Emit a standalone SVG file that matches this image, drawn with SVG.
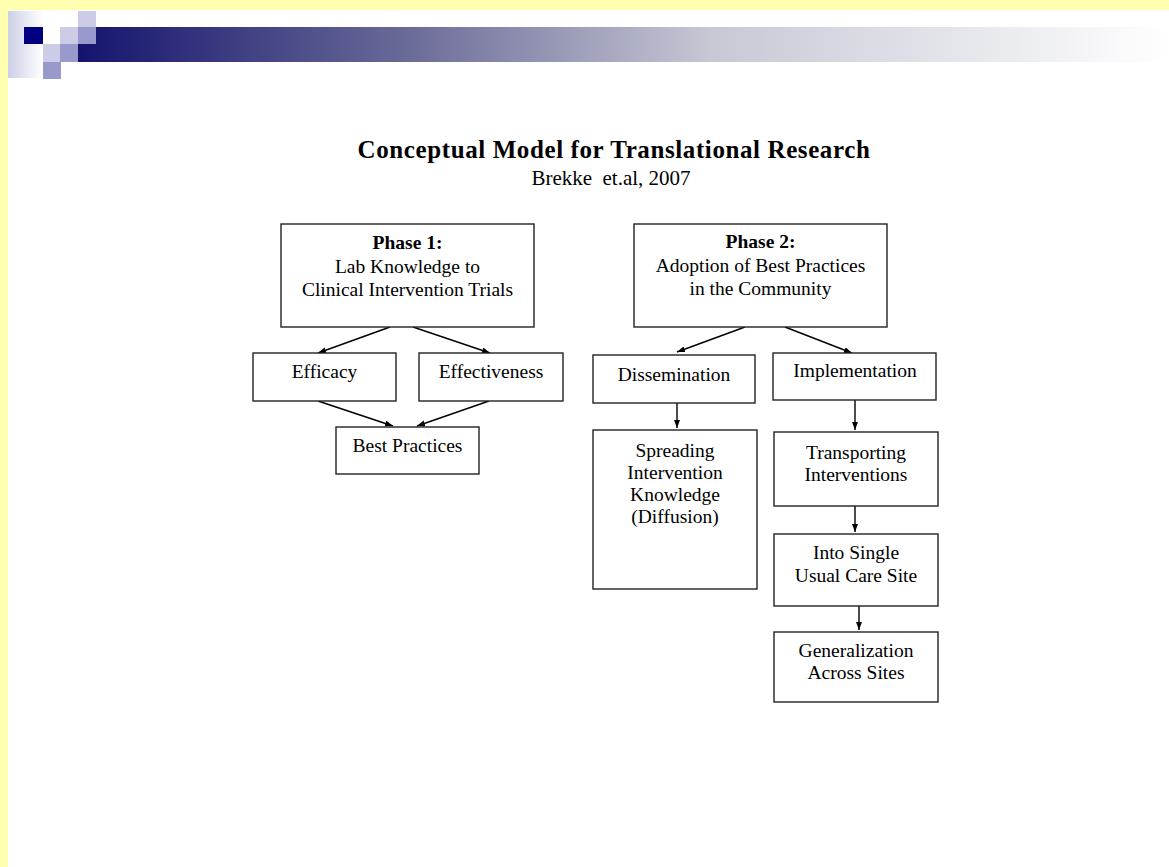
<svg xmlns="http://www.w3.org/2000/svg" width="1169" height="867" viewBox="0 0 1169 867">
  <defs>
    <linearGradient id="band" gradientUnits="userSpaceOnUse" x1="78" y1="0" x2="1169" y2="0">
      <stop offset="0" stop-color="#14146E"/>
      <stop offset="0.3" stop-color="#6A6A98"/>
      <stop offset="0.58" stop-color="#C6C8D4"/>
      <stop offset="1" stop-color="#FFFFFF"/>
    </linearGradient>
    <linearGradient id="lite" x1="0" y1="0" x2="1" y2="0">
      <stop offset="0" stop-color="#CCCFE6"/>
      <stop offset="1" stop-color="#FFFFFF"/>
    </linearGradient>
    <marker id="arr" markerUnits="userSpaceOnUse" markerWidth="9" markerHeight="7" refX="8" refY="3" orient="auto">
      <path d="M0,0 L8,3 L0,6 z" fill="#000"/>
    </marker>
    <style>
      .box { fill: #fff; stroke: #222; stroke-width: 1.4; }
      .t { font-family: "Liberation Serif", "Times New Roman", serif; font-size: 19.5px; fill: #000; text-anchor: middle; }
      .b { font-weight: bold; }
      .c { stroke: #000; stroke-width: 1.4; fill: none; marker-end: url(#arr); }
    </style>
  </defs>

  <!-- background -->
  <rect x="0" y="0" width="1169" height="867" fill="#FFFFFF"/>
  <rect x="0" y="0" width="1169" height="10" fill="#FFFFB0"/>
  <rect x="0" y="0" width="8" height="867" fill="#FFFFB0"/>

  <!-- header decoration -->
  <g id="header">
    <rect x="8" y="11" width="35" height="67" fill="url(#lite)"/>
    <rect x="78" y="27" width="1091" height="35" fill="url(#band)"/>
    <rect x="24" y="27" width="19" height="17" fill="#000080"/>
    <rect x="60" y="27" width="18" height="17" fill="#CCCCE6"/>
    <rect x="78" y="11" width="18" height="16" fill="#CCCCE6"/>
    <rect x="78" y="27" width="18" height="17" fill="#9999CC"/>
    <rect x="43" y="44" width="17" height="18" fill="#CCCCE6"/>
    <rect x="60" y="44" width="18" height="18" fill="#9999CC"/>
    <rect x="43" y="62" width="18" height="17" fill="#9999CC"/>
  </g>

  <!-- titles -->
  <g id="title">
    <text class="t b" x="614" y="158" style="font-size:25px" letter-spacing="0.6">Conceptual Model for Translational Research</text>
    <text class="t" x="611" y="185" style="font-size:21px" xml:space="preserve">Brekke  et.al, 2007</text>
  </g>

  <!-- connectors -->
  <g id="connectors">
    <line class="c" x1="390" y1="327" x2="318" y2="353"/>
    <line class="c" x1="413" y1="327" x2="490" y2="353"/>
    <line class="c" x1="318" y1="401" x2="393" y2="426"/>
    <line class="c" x1="489" y1="401" x2="417" y2="426"/>
    <line class="c" x1="745" y1="327" x2="677" y2="352"/>
    <line class="c" x1="785" y1="327" x2="852" y2="353"/>
    <line class="c" x1="677" y1="403" x2="677" y2="428"/>
    <line class="c" x1="855" y1="400" x2="855" y2="430"/>
    <line class="c" x1="855" y1="506" x2="855" y2="532"/>
    <line class="c" x1="859" y1="606" x2="859" y2="630"/>
  </g>

  <!-- nodes -->
  <g id="phase1">
    <rect class="box" x="281" y="224" width="253" height="103"/>
    <text class="t b" x="407.5" y="249">Phase 1:</text>
    <text class="t" x="407.5" y="273">Lab Knowledge to</text>
    <text class="t" x="407.5" y="296">Clinical Intervention Trials</text>
  </g>
  <g id="efficacy">
    <rect class="box" x="253" y="353" width="143" height="48"/>
    <text class="t" x="324.5" y="378">Efficacy</text>
  </g>
  <g id="effectiveness">
    <rect class="box" x="419" y="353" width="144" height="48"/>
    <text class="t" x="491" y="378">Effectiveness</text>
  </g>
  <g id="best-practices">
    <rect class="box" x="336" y="427" width="143" height="47"/>
    <text class="t" x="407.5" y="452">Best Practices</text>
  </g>

  <g id="phase2">
    <rect class="box" x="634" y="224" width="253" height="103"/>
    <text class="t b" x="760.5" y="248">Phase 2:</text>
    <text class="t" x="760.5" y="272">Adoption of Best Practices</text>
    <text class="t" x="760.5" y="295">in the Community</text>
  </g>
  <g id="dissemination">
    <rect class="box" x="593" y="355" width="162" height="48"/>
    <text class="t" x="674" y="381">Dissemination</text>
  </g>
  <g id="implementation">
    <rect class="box" x="773" y="353" width="163" height="47"/>
    <text class="t" x="855" y="377">Implementation</text>
  </g>
  <g id="spreading">
    <rect class="box" x="593" y="430" width="164" height="159"/>
    <text class="t" x="675" y="457">Spreading</text>
    <text class="t" x="675" y="479">Intervention</text>
    <text class="t" x="675" y="501">Knowledge</text>
    <text class="t" x="675" y="523">(Diffusion)</text>
  </g>
  <g id="transporting">
    <rect class="box" x="774" y="432" width="164" height="74"/>
    <text class="t" x="856" y="459">Transporting</text>
    <text class="t" x="856" y="481">Interventions</text>
  </g>
  <g id="single-site">
    <rect class="box" x="774" y="534" width="164" height="72"/>
    <text class="t" x="856" y="559">Into Single</text>
    <text class="t" x="856" y="582">Usual Care Site</text>
  </g>
  <g id="generalization">
    <rect class="box" x="774" y="632" width="164" height="70"/>
    <text class="t" x="856" y="657">Generalization</text>
    <text class="t" x="856" y="679">Across Sites</text>
  </g>
</svg>
